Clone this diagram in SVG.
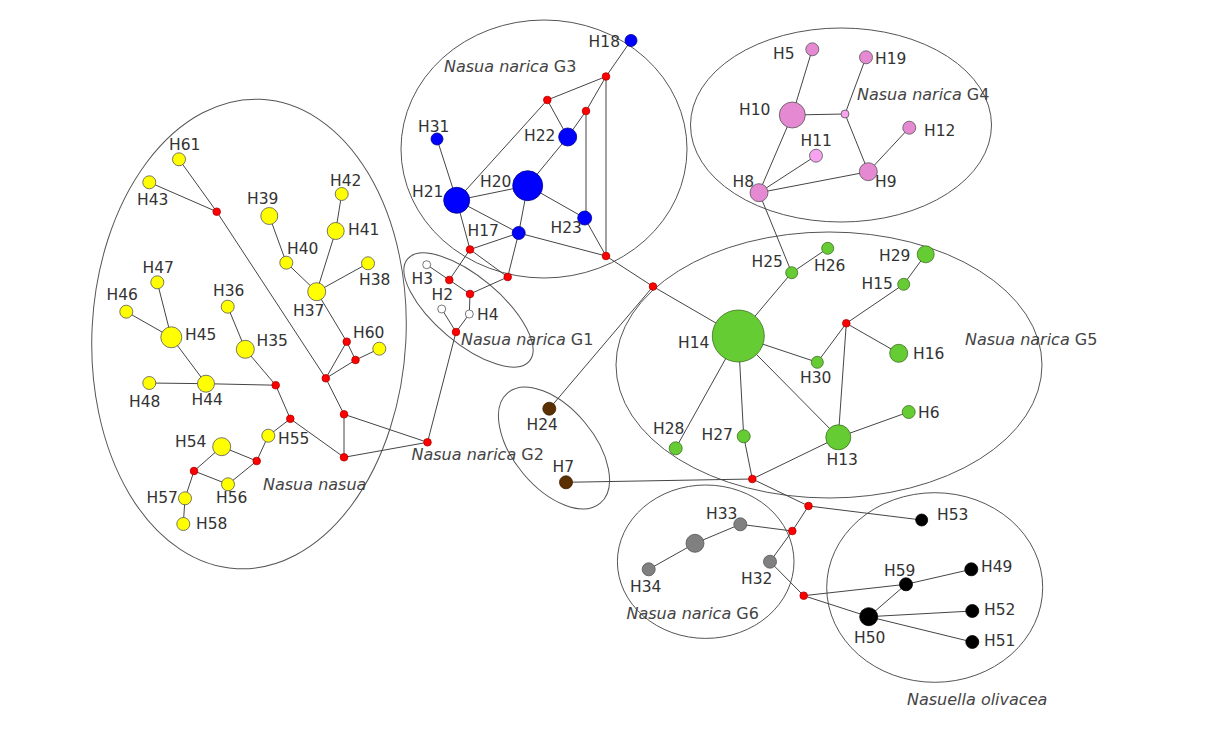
<svg xmlns="http://www.w3.org/2000/svg" width="1223" height="729" viewBox="0 0 1223 729">
<style>
.bg{fill:#fff}
.grp{fill:none;stroke:#555;stroke-width:1}
.e line{stroke:#454545;stroke-width:1}
circle{stroke:#333;stroke-width:0.8}
.r{fill:#ff0000;stroke:#b00000}
.b{fill:#0000ff;stroke:#00008a}
.p{fill:#e58ad2;stroke:#555}
.pl{fill:#f7a3ef;stroke:#555}
.g{fill:#66cc33;stroke:#3d6e22}
.y{fill:#ffff00;stroke:#555}
.w{fill:#fff;stroke:#555}
.br{fill:#5a3000;stroke:#3a2000}
.gy{fill:#808080;stroke:#555}
.k{fill:#000;stroke:#000}
text{font-family:"DejaVu Sans","Liberation Sans",sans-serif;font-size:15.5px;fill:#333}
.gl{font-size:16px;fill:#444}
.gl tspan.i{font-style:italic}
</style>
<rect class="bg" x="0" y="0" width="1223" height="729"/>
<g id="groups">
<ellipse class="grp" cx="249" cy="334" rx="157" ry="235" transform="rotate(3 249 334)"/>
<ellipse class="grp" cx="544" cy="149" rx="143" ry="129"/>
<ellipse class="grp" cx="841" cy="125" rx="150.5" ry="97"/>
<ellipse class="grp" cx="468.5" cy="310" rx="79.5" ry="33" transform="rotate(40 468.5 310)"/>
<ellipse class="grp" cx="554" cy="448" rx="72" ry="40" transform="rotate(50 554 448)"/>
<ellipse class="grp" cx="829" cy="365" rx="213" ry="133"/>
<ellipse class="grp" cx="705.7" cy="561.7" rx="88.3" ry="76.7"/>
<ellipse class="grp" cx="934.7" cy="587.5" rx="108" ry="94.8"/>
</g>
<g id="connectors" class="e">
<line x1="631" y1="40.5" x2="606" y2="76.5"/>
<line x1="606" y1="76.5" x2="547.3" y2="100"/>
<line x1="606" y1="76.5" x2="586" y2="111"/>
<line x1="606" y1="76.5" x2="606" y2="256"/>
<line x1="586" y1="111" x2="567.7" y2="137"/>
<line x1="586" y1="111" x2="586" y2="218"/>
<line x1="547.3" y1="100" x2="567.7" y2="137"/>
<line x1="547.3" y1="100" x2="456.7" y2="200.3"/>
<line x1="567.7" y1="137" x2="527.7" y2="185.7"/>
<line x1="527.7" y1="185.7" x2="456.7" y2="200.3"/>
<line x1="527.7" y1="185.7" x2="584.7" y2="218"/>
<line x1="527.7" y1="185.7" x2="518.7" y2="233"/>
<line x1="437" y1="139" x2="456.7" y2="200.3"/>
<line x1="456.7" y1="200.3" x2="518.7" y2="233"/>
<line x1="456.7" y1="200.3" x2="470" y2="249.5"/>
<line x1="470" y1="249.5" x2="518.7" y2="233"/>
<line x1="470" y1="249.5" x2="507.7" y2="277"/>
<line x1="518.7" y1="233" x2="507.7" y2="277"/>
<line x1="584.7" y1="218" x2="606" y2="256"/>
<line x1="518.7" y1="233" x2="606" y2="256"/>
<line x1="606" y1="256" x2="653" y2="286.5"/>
<line x1="470" y1="249.5" x2="449.3" y2="280"/>
<line x1="449.3" y1="280" x2="426.7" y2="264.7"/>
<line x1="449.3" y1="280" x2="470" y2="294"/>
<line x1="507.7" y1="277" x2="470" y2="294"/>
<line x1="470" y1="294" x2="469.3" y2="314"/>
<line x1="469.3" y1="314" x2="456" y2="332"/>
<line x1="441.7" y1="309" x2="456" y2="332"/>
<line x1="456" y1="332" x2="427.5" y2="442.3"/>
<line x1="653" y1="286.5" x2="549.3" y2="408.7"/>
<line x1="653" y1="286.5" x2="738.3" y2="336"/>
<line x1="566" y1="482.3" x2="752.3" y2="479"/>
<line x1="759" y1="192.7" x2="791.7" y2="272.7"/>
<line x1="791.7" y1="272.7" x2="827.7" y2="248.3"/>
<line x1="791.7" y1="272.7" x2="738.3" y2="336"/>
<line x1="925.7" y1="254.3" x2="903.7" y2="284.3"/>
<line x1="903.7" y1="284.3" x2="846.3" y2="323.3"/>
<line x1="846.3" y1="323.3" x2="898.7" y2="353.3"/>
<line x1="846.3" y1="323.3" x2="817.3" y2="362.3"/>
<line x1="846.3" y1="323.3" x2="838.3" y2="437.3"/>
<line x1="738.3" y1="336" x2="817.3" y2="362.3"/>
<line x1="738.3" y1="336" x2="675.7" y2="448.3"/>
<line x1="738.3" y1="336" x2="743.7" y2="436.3"/>
<line x1="738.3" y1="336" x2="838.3" y2="437.3"/>
<line x1="743.7" y1="436.3" x2="752.3" y2="479"/>
<line x1="752.3" y1="479" x2="838.3" y2="437.3"/>
<line x1="838.3" y1="437.3" x2="908.7" y2="412"/>
<line x1="752.3" y1="479" x2="808.5" y2="506"/>
<line x1="808.5" y1="506" x2="921.7" y2="520"/>
<line x1="808.5" y1="506" x2="792.3" y2="531"/>
<line x1="792.3" y1="531" x2="740.3" y2="524.3"/>
<line x1="740.3" y1="524.3" x2="695" y2="543.3"/>
<line x1="695" y1="543.3" x2="648.7" y2="569.3"/>
<line x1="792.3" y1="531" x2="770" y2="561.7"/>
<line x1="770" y1="561.7" x2="803.7" y2="595.7"/>
<line x1="803.7" y1="595.7" x2="906" y2="584.3"/>
<line x1="803.7" y1="595.7" x2="868.7" y2="616.7"/>
<line x1="906" y1="584.3" x2="971.3" y2="569.3"/>
<line x1="906" y1="584.3" x2="868.7" y2="616.7"/>
<line x1="868.7" y1="616.7" x2="972.3" y2="611"/>
<line x1="868.7" y1="616.7" x2="972.3" y2="642"/>
<line x1="812.3" y1="49.3" x2="792.3" y2="115"/>
<line x1="792.3" y1="115" x2="845" y2="114"/>
<line x1="845" y1="114" x2="866" y2="57.3"/>
<line x1="845" y1="114" x2="868.3" y2="171.7"/>
<line x1="868.3" y1="171.7" x2="909.3" y2="127.7"/>
<line x1="792.3" y1="115" x2="759" y2="192.7"/>
<line x1="759" y1="192.7" x2="816" y2="155.7"/>
<line x1="759" y1="192.7" x2="868.3" y2="171.7"/>
<line x1="179" y1="159.3" x2="216.7" y2="211.7"/>
<line x1="149.3" y1="182.3" x2="216.7" y2="211.7"/>
<line x1="216.7" y1="211.7" x2="325.8" y2="378.3"/>
<line x1="325.8" y1="378.3" x2="344" y2="414.3"/>
<line x1="269.3" y1="216" x2="286.3" y2="262.7"/>
<line x1="286.3" y1="262.7" x2="316.7" y2="291.7"/>
<line x1="341.7" y1="194" x2="335.7" y2="231"/>
<line x1="335.7" y1="231" x2="316.7" y2="291.7"/>
<line x1="316.7" y1="291.7" x2="368" y2="263.3"/>
<line x1="316.7" y1="291.7" x2="346.7" y2="341.7"/>
<line x1="346.7" y1="341.7" x2="355.5" y2="360"/>
<line x1="346.7" y1="341.7" x2="325.8" y2="378.3"/>
<line x1="355.5" y1="360" x2="325.8" y2="378.3"/>
<line x1="355.5" y1="360" x2="379.3" y2="348.7"/>
<line x1="157.3" y1="282.3" x2="171.3" y2="337.3"/>
<line x1="126.3" y1="311.7" x2="171.3" y2="337.3"/>
<line x1="171.3" y1="337.3" x2="206" y2="383.7"/>
<line x1="149.3" y1="383" x2="206" y2="383.7"/>
<line x1="206" y1="383.7" x2="275.7" y2="385.2"/>
<line x1="227.7" y1="306.7" x2="245.3" y2="349.3"/>
<line x1="245.3" y1="349.3" x2="275.7" y2="385.2"/>
<line x1="275.7" y1="385.2" x2="290.3" y2="418.8"/>
<line x1="290.3" y1="418.8" x2="268.3" y2="435.7"/>
<line x1="268.3" y1="435.7" x2="256.7" y2="461"/>
<line x1="256.7" y1="461" x2="221.7" y2="446.7"/>
<line x1="256.7" y1="461" x2="228" y2="484.3"/>
<line x1="228" y1="484.3" x2="194" y2="471"/>
<line x1="194" y1="471" x2="221.7" y2="446.7"/>
<line x1="194" y1="471" x2="185" y2="498.3"/>
<line x1="185" y1="498.3" x2="183.3" y2="524"/>
<line x1="290.3" y1="418.8" x2="344" y2="457.3"/>
<line x1="344" y1="414.3" x2="344" y2="457.3"/>
<line x1="344" y1="414.3" x2="427.5" y2="442.3"/>
<line x1="344" y1="457.3" x2="427.5" y2="442.3"/>
</g>
<g id="median-vectors">
<g id="mv1"><circle class="r" cx="606" cy="76.5" r="3.8"/></g>
<g id="mv2"><circle class="r" cx="547.3" cy="100" r="3.8"/></g>
<g id="mv3"><circle class="r" cx="586" cy="111" r="3.8"/></g>
<g id="mv4"><circle class="r" cx="470" cy="249.5" r="3.8"/></g>
<g id="mv5"><circle class="r" cx="606" cy="256" r="3.8"/></g>
<g id="mv6"><circle class="r" cx="507.7" cy="277" r="3.8"/></g>
<g id="mv7"><circle class="r" cx="449.3" cy="280" r="3.8"/></g>
<g id="mv8"><circle class="r" cx="653" cy="286.5" r="3.8"/></g>
<g id="mv9"><circle class="r" cx="470" cy="294" r="3.8"/></g>
<g id="mv10"><circle class="r" cx="456" cy="332" r="3.8"/></g>
<g id="mv11"><circle class="r" cx="427.5" cy="442.3" r="3.8"/></g>
<g id="mv12"><circle class="r" cx="846.3" cy="323.3" r="3.8"/></g>
<g id="mv13"><circle class="r" cx="752.3" cy="479" r="3.8"/></g>
<g id="mv14"><circle class="r" cx="808.5" cy="506" r="3.8"/></g>
<g id="mv15"><circle class="r" cx="792.3" cy="531" r="3.8"/></g>
<g id="mv16"><circle class="r" cx="803.7" cy="595.7" r="3.8"/></g>
<g id="mv17"><circle class="r" cx="216.7" cy="211.7" r="3.8"/></g>
<g id="mv18"><circle class="r" cx="346.7" cy="341.7" r="3.8"/></g>
<g id="mv19"><circle class="r" cx="355.5" cy="360" r="3.8"/></g>
<g id="mv20"><circle class="r" cx="325.8" cy="378.3" r="3.8"/></g>
<g id="mv21"><circle class="r" cx="275.7" cy="385.2" r="3.8"/></g>
<g id="mv22"><circle class="r" cx="290.3" cy="418.8" r="3.8"/></g>
<g id="mv23"><circle class="r" cx="344" cy="414.3" r="3.8"/></g>
<g id="mv24"><circle class="r" cx="344" cy="457.3" r="3.8"/></g>
<g id="mv25"><circle class="r" cx="256.7" cy="461" r="3.8"/></g>
<g id="mv26"><circle class="r" cx="194" cy="471" r="3.8"/></g>
</g>
<g id="haplotypes">
<g id="H18"><circle class="b" cx="631" cy="40.5" r="6"/><text x="620" y="47" text-anchor="end">H18</text></g>
<g id="H31"><circle class="b" cx="437" cy="139" r="6"/><text x="418" y="132">H31</text></g>
<g id="H22"><circle class="b" cx="567.7" cy="137" r="9"/><text x="524" y="141">H22</text></g>
<g id="H20"><circle class="b" cx="527.7" cy="185.7" r="15"/><text x="480" y="187">H20</text></g>
<g id="H21"><circle class="b" cx="456.7" cy="200.3" r="13"/><text x="412" y="197">H21</text></g>
<g id="H23"><circle class="b" cx="584.7" cy="218" r="7"/><text x="550.5" y="233">H23</text></g>
<g id="H17"><circle class="b" cx="518.7" cy="233" r="6.5"/><text x="467.5" y="236">H17</text></g>
<g id="H3"><circle class="w" cx="426.7" cy="264.7" r="4"/><text x="411.5" y="283.5">H3</text></g>
<g id="H2"><circle class="w" cx="441.7" cy="309" r="4"/><text x="431.5" y="300">H2</text></g>
<g id="H4"><circle class="w" cx="469.3" cy="314" r="4"/><text x="477" y="320">H4</text></g>
<g id="H24"><circle class="br" cx="549.3" cy="408.7" r="6.5"/><text x="526.5" y="430">H24</text></g>
<g id="H7"><circle class="br" cx="566" cy="482.3" r="6.5"/><text x="552.5" y="472">H7</text></g>
<g id="H5"><circle class="p" cx="812.3" cy="49.3" r="6.5"/><text x="773" y="58.5">H5</text></g>
<g id="H19"><circle class="p" cx="866" cy="57.3" r="6.5"/><text x="875" y="63.5">H19</text></g>
<g id="H10"><circle class="p" cx="792.3" cy="115" r="13"/><text x="739" y="115">H10</text></g>
<g id="mvG4"><circle class="pl" cx="845" cy="114" r="4"/></g>
<g id="H12"><circle class="p" cx="909.3" cy="127.7" r="6.5"/><text x="924" y="136">H12</text></g>
<g id="H11"><circle class="pl" cx="816" cy="155.7" r="6.5"/><text x="800.5" y="146">H11</text></g>
<g id="H9"><circle class="p" cx="868.3" cy="171.7" r="9"/><text x="875" y="187">H9</text></g>
<g id="H8"><circle class="p" cx="759" cy="192.7" r="9"/><text x="732.5" y="187">H8</text></g>
<g id="H25"><circle class="g" cx="791.7" cy="272.7" r="6"/><text x="751.5" y="267">H25</text></g>
<g id="H26"><circle class="g" cx="827.7" cy="248.3" r="6"/><text x="814" y="271">H26</text></g>
<g id="H29"><circle class="g" cx="925.7" cy="254.3" r="8.5"/><text x="879" y="261">H29</text></g>
<g id="H15"><circle class="g" cx="903.7" cy="284.3" r="6"/><text x="861.5" y="289">H15</text></g>
<g id="H14"><circle class="g" cx="738.3" cy="336" r="26"/><text x="678" y="347.5">H14</text></g>
<g id="H16"><circle class="g" cx="898.7" cy="353.3" r="9"/><text x="913" y="359">H16</text></g>
<g id="H30"><circle class="g" cx="817.3" cy="362.3" r="6"/><text x="800" y="383">H30</text></g>
<g id="H6"><circle class="g" cx="908.7" cy="412" r="6.5"/><text x="918" y="418">H6</text></g>
<g id="H13"><circle class="g" cx="838.3" cy="437.3" r="12.5"/><text x="826.5" y="464.5">H13</text></g>
<g id="H28"><circle class="g" cx="675.7" cy="448.3" r="6.5"/><text x="653" y="433.5">H28</text></g>
<g id="H27"><circle class="g" cx="743.7" cy="436.3" r="6.5"/><text x="701.5" y="440">H27</text></g>
<g id="H33"><circle class="gy" cx="740.3" cy="524.3" r="6.5"/><text x="706" y="519">H33</text></g>
<g id="hG6"><circle class="gy" cx="695" cy="543.3" r="9"/></g>
<g id="H34"><circle class="gy" cx="648.7" cy="569.3" r="6.5"/><text x="630" y="592">H34</text></g>
<g id="H32"><circle class="gy" cx="770" cy="561.7" r="6.5"/><text x="741" y="583.5">H32</text></g>
<g id="H53"><circle class="k" cx="921.7" cy="520" r="6"/><text x="937" y="520">H53</text></g>
<g id="H59"><circle class="k" cx="906" cy="584.3" r="6.5"/><text x="884" y="575.5">H59</text></g>
<g id="H49"><circle class="k" cx="971.3" cy="569.3" r="6.5"/><text x="981" y="572">H49</text></g>
<g id="H50"><circle class="k" cx="868.7" cy="616.7" r="9"/><text x="854" y="642.5">H50</text></g>
<g id="H52"><circle class="k" cx="972.3" cy="611" r="6.5"/><text x="984" y="615">H52</text></g>
<g id="H51"><circle class="k" cx="972.3" cy="642" r="6.5"/><text x="984" y="646">H51</text></g>
<g id="H61"><circle class="y" cx="179" cy="159.3" r="6.5"/><text x="169" y="150">H61</text></g>
<g id="H43"><circle class="y" cx="149.3" cy="182.3" r="6.5"/><text x="137" y="205">H43</text></g>
<g id="H39"><circle class="y" cx="269.3" cy="216" r="8.5"/><text x="247" y="203.5">H39</text></g>
<g id="H42"><circle class="y" cx="341.7" cy="194" r="6.5"/><text x="330" y="186">H42</text></g>
<g id="H41"><circle class="y" cx="335.7" cy="231" r="8.5"/><text x="348" y="235">H41</text></g>
<g id="H40"><circle class="y" cx="286.3" cy="262.7" r="6.5"/><text x="287" y="254">H40</text></g>
<g id="H38"><circle class="y" cx="368" cy="263.3" r="6.5"/><text x="359" y="285">H38</text></g>
<g id="H37"><circle class="y" cx="316.7" cy="291.7" r="9"/><text x="293" y="316">H37</text></g>
<g id="H47"><circle class="y" cx="157.3" cy="282.3" r="6.5"/><text x="142.5" y="273">H47</text></g>
<g id="H46"><circle class="y" cx="126.3" cy="311.7" r="6.5"/><text x="106.5" y="300">H46</text></g>
<g id="H36"><circle class="y" cx="227.7" cy="306.7" r="6.5"/><text x="213" y="296">H36</text></g>
<g id="H45"><circle class="y" cx="171.3" cy="337.3" r="10.5"/><text x="185" y="340">H45</text></g>
<g id="H35"><circle class="y" cx="245.3" cy="349.3" r="9"/><text x="256.5" y="346">H35</text></g>
<g id="H60"><circle class="y" cx="379.3" cy="348.7" r="6.5"/><text x="353" y="337.5">H60</text></g>
<g id="H48"><circle class="y" cx="149.3" cy="383" r="6.5"/><text x="129" y="407">H48</text></g>
<g id="H44"><circle class="y" cx="206" cy="383.7" r="8.5"/><text x="191.5" y="405">H44</text></g>
<g id="H55"><circle class="y" cx="268.3" cy="435.7" r="6.5"/><text x="278" y="443.5">H55</text></g>
<g id="H54"><circle class="y" cx="221.7" cy="446.7" r="9"/><text x="175" y="447">H54</text></g>
<g id="H56"><circle class="y" cx="228" cy="484.3" r="6.5"/><text x="216" y="503">H56</text></g>
<g id="H57"><circle class="y" cx="185" cy="498.3" r="6.5"/><text x="146.5" y="503">H57</text></g>
<g id="H58"><circle class="y" cx="183.3" cy="524" r="6.5"/><text x="196" y="529">H58</text></g>
</g>
<g id="group-labels">
<text class="gl" x="444" y="72"><tspan class="i">Nasua narica </tspan>G3</text>
<text class="gl" x="857" y="100"><tspan class="i">Nasua narica </tspan>G4</text>
<text class="gl" x="461" y="345"><tspan class="i">Nasua narica </tspan>G1</text>
<text class="gl" x="411.5" y="460"><tspan class="i">Nasua narica </tspan>G2</text>
<text class="gl" x="965" y="345"><tspan class="i">Nasua narica </tspan>G5</text>
<text class="gl" x="626.5" y="618.5"><tspan class="i">Nasua narica </tspan>G6</text>
<text class="gl" x="263" y="490"><tspan class="i">Nasua nasua</tspan></text>
<text class="gl" x="907" y="705"><tspan class="i">Nasuella olivacea</tspan></text>
</g>
</svg>
